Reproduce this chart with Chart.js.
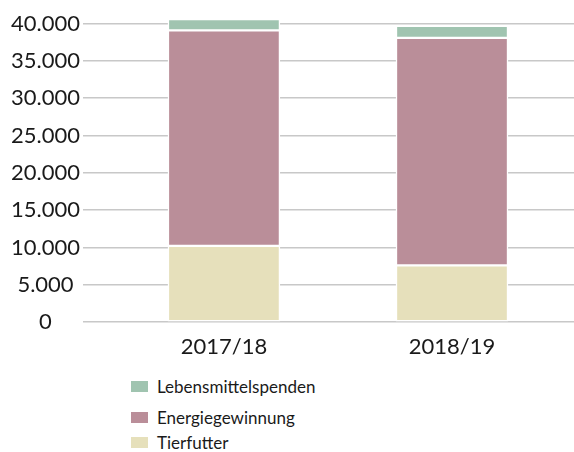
<!DOCTYPE html>
<html>
<head>
<meta charset="utf-8">
<script src="https://cdn.jsdelivr.net/npm/chart.js@4"></script>
<style>
    body { margin: 0; background: #fff; font-family: Lato, "Noto Sans", sans-serif; }
    #chartContainer { position: relative; width: 574px; height: 360px; }
    #legend { position: absolute; left: 131px; top: 373px; color: #1a1a1a; font-size: 17px; }
    .legend-item { display: flex; align-items: center; height: 26px; }
    .legend-item:nth-child(2) { margin-top: 5px; }
    .legend-item:nth-child(3) { margin-top: -1px; }
    .legend-box { width: 17px; height: 11px; margin-right: 9px; }
</style>
</head>
<body>
<div id="chartContainer"><canvas id="foodChart"></canvas></div>
<div id="legend"></div>
<script>
// Chart data
const categories = ["2017/18", "2018/19"];
const tierfutter = [10200, 7600];
const energiegewinnung = [28900, 30500];
const lebensmittelspenden = [1500, 1600];
const yTicks = [0, 5000, 10000, 15000, 20000, 25000, 30000, 35000, 40000];

function formatDe(v) {
    return String(v).replace(/\B(?=(\d{3})+(?!\d))/g, ".");
}

function toPoints(values) {
    return values.map((v, i) => ({ x: i, y: v }));
}

const data = {
    datasets: [
        { label: "Tierfutter", data: toPoints(tierfutter), backgroundColor: "#e6e0bb" },
        { label: "Energiegewinnung", data: toPoints(energiegewinnung), backgroundColor: "#ba8e99" },
        { label: "Lebensmittelspenden", data: toPoints(lebensmittelspenden), backgroundColor: "#a0c4b0" }
    ]
};
data.datasets.forEach(ds => {
    ds.borderColor = "#ffffff";
    ds.borderWidth = 1.5;
    ds.borderSkipped = false;
    ds.barThickness = 112;
});

const options = {
    responsive: true,
    maintainAspectRatio: false,
    animation: false,
    // top of the 41.000 range sits ~7.5px above the 40.000 line
    layout: { padding: { top: 15.5, right: 0, left: 0, bottom: 0 } },
    plugins: {
        legend: { display: false },
        tooltip: { enabled: false }
    },
    scales: {
        x: {
            type: "linear",
            stacked: true,
            offset: false,
            min: -0.618,
            max: 1.535,
            afterFit: scale => { scale.height = 38; },
            grid: { display: false, offset: false },
            border: { display: false },
            afterBuildTicks: scale => { scale.ticks = categories.map((c, i) => ({ value: i })); },
            ticks: {
                padding: 4,
                color: "#1a1a1a",
                font: { family: "Lato", size: 22 },
                callback: v => categories[v]
            }
        },
        y: {
            stacked: true,
            min: 0,
            max: 41000,
            afterFit: scale => { scale.width = 83; },
            afterBuildTicks: scale => { scale.ticks = yTicks.map(v => ({ value: v })); },
            grid: { color: "#c8c8c8", lineWidth: 1.5, drawTicks: false },
            border: { display: false },
            ticks: {
                padding: 3,
                crossAlign: "center",
                color: "#1a1a1a",
                font: { family: "Lato", size: 22 },
                callback: v => formatDe(v)
            }
        }
    }
};

const ctx = document.getElementById("foodChart").getContext("2d");
const chart = new Chart(ctx, { type: "bar", data: data, options: options });

// Legend, top item is the top of the stack
const legend = document.getElementById("legend");
data.datasets.slice().reverse().forEach(ds => {
    const item = document.createElement("div");
    item.className = "legend-item";
    const box = document.createElement("span");
    box.className = "legend-box";
    box.style.background = ds.backgroundColor;
    const text = document.createElement("span");
    text.textContent = ds.label;
    item.appendChild(box);
    item.appendChild(text);
    legend.appendChild(item);
});
</script>
</body>
</html>
